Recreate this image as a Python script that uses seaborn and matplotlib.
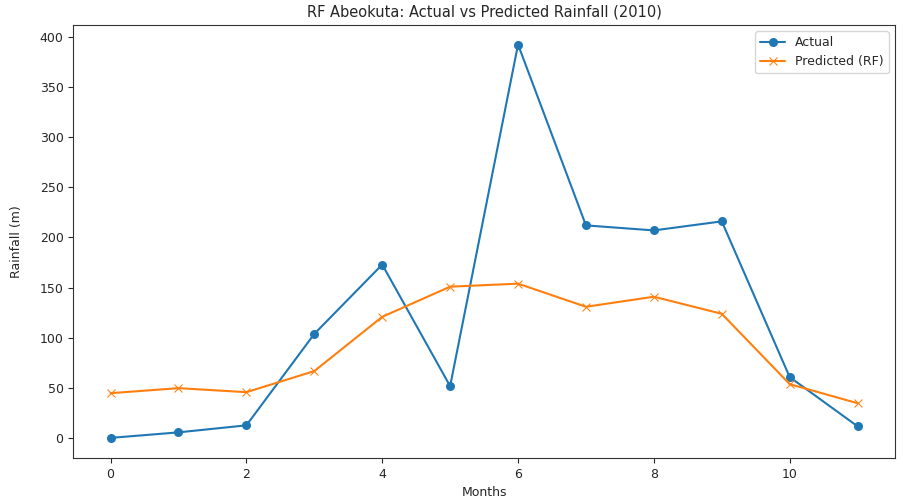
import matplotlib
matplotlib.use("Agg")
import matplotlib.pyplot as plt
import seaborn as sns
import pandas as pd

months = list(range(12))
actual = [0.5, 6, 13, 104, 173, 52, 392, 212, 207, 216, 61, 12]
predicted = [45, 50, 46, 67, 121, 151, 154, 131, 141, 124, 54, 35]

sns.set_style("ticks")
plt.rcParams['font.family'] = ['DejaVu Sans']

fig = plt.figure(figsize=(9.04, 4.99), dpi=100)
ax = fig.add_axes([0.081, 0.082, 0.909, 0.868])

df = pd.DataFrame({"Months": months, "Actual": actual, "Predicted": predicted})
sns.lineplot(data=df, x="Months", y="Actual", ax=ax, marker="o", markersize=6.5,
             color="#1f77b4", label="Actual", markeredgewidth=0)
sns.lineplot(data=df, x="Months", y="Predicted", ax=ax, marker="x", markersize=6,
             color="#ff7f0e", label="Predicted (RF)", markeredgecolor="#ff7f0e")

ax.set_xlim(-0.55, 11.55)
ax.set_ylim(-19.6, 411.5)
ax.set_xticks([0, 2, 4, 6, 8, 10])
ax.set_yticks([0, 50, 100, 150, 200, 250, 300, 350, 400])
ax.tick_params(labelsize=9)
ax.set_xlabel("Months", fontsize=9)
ax.set_ylabel("Rainfall (m)", fontsize=9, labelpad=12)
ax.set_title("RF Abeokuta: Actual vs Predicted Rainfall (2010)", fontsize=10.5)
ax.legend(loc="upper right", fontsize=9)
for s in ax.spines.values():
    s.set_visible(True)
    s.set_color("#333333")

fig.savefig("out.png", dpi=100)
